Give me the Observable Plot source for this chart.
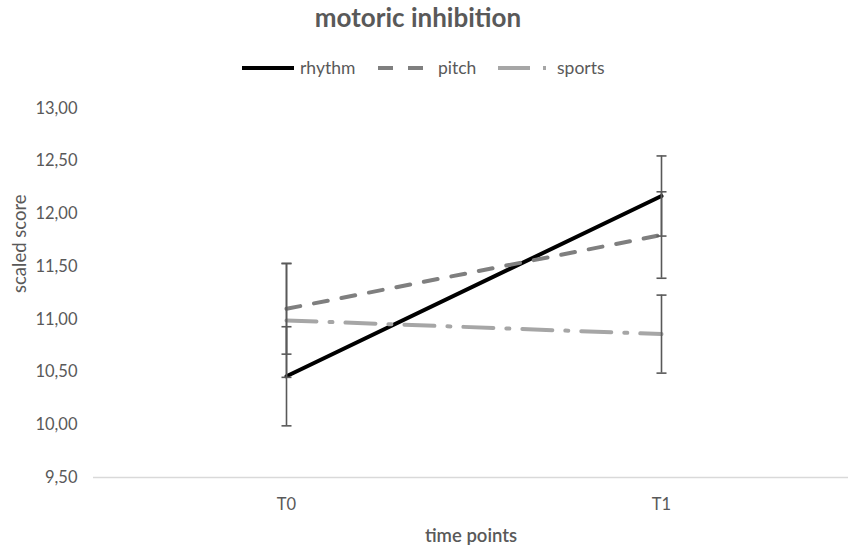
<!DOCTYPE html>
<html>
<head>
<meta charset="utf-8">
<script src="https://cdn.jsdelivr.net/npm/d3@7"></script>
<script src="https://cdn.jsdelivr.net/npm/@observablehq/plot@0.6"></script>
<style>
  body { margin: 0; background: #fff; font-family: Lato, "Open Sans", sans-serif; }
  #wrap { position: relative; width: 850px; height: 552px; }
  #title { position: absolute; left: 0; width: 836px; top: 1px; text-align: center; font-size: 26px; font-weight: bold; color: #595959; }
  #legend { position: absolute; top: 56px; left: 0; width: 850px; height: 24px; }
  #chart { position: absolute; top: 88px; left: 0; }
</style>
</head>
<body>
<div id="wrap">
  <div id="title">motoric inhibition</div>
  <svg id="legend" width="850" height="24"></svg>
  <div id="chart"></div>
</div>
<script>
const timePoints = ["T0", "T1"];
const groups = ["rhythm", "pitch", "sports"];
const rhythmMean = [10.46, 12.17];
const rhythmErr = [0.47, 0.38];
const pitchMean = [11.10, 11.80];
const pitchErr = [0.43, 0.41];
const sportsMean = [10.99, 10.86];
const sportsErr = [0.54, 0.37];
const yTicks = [9.5, 10, 10.5, 11, 11.5, 12, 12.5, 13];

const colors = {rhythm: "#000000", pitch: "#7f7f7f", sports: "#a6a6a6"};
const dashes = {rhythm: null, pitch: "14,14", sports: "30,13,3,13"};
const means = {rhythm: rhythmMean, pitch: pitchMean, sports: sportsMean};
const errs = {rhythm: rhythmErr, pitch: pitchErr, sports: sportsErr};

const rows = [];
for (const g of groups) timePoints.forEach((t, i) => rows.push({group: g, time: t, y: means[g][i], lo: means[g][i] - errs[g][i], hi: means[g][i] + errs[g][i]}));

const capSymbol = {draw(ctx, size) { const w = Math.sqrt(size / Math.PI); ctx.moveTo(-w, 0); ctx.lineTo(w, 0); }};
const caps = rows.flatMap(d => [{time: d.time, y: d.lo}, {time: d.time, y: d.hi}]);
const fmt = d => d.toFixed(2).replace(".", ",");
const FONT = "Lato, 'Open Sans', sans-serif";

const plot = Plot.plot({
  width: 850, height: 464,
  marginLeft: 93, marginRight: 2, marginTop: 20, marginBottom: 75,
  style: {fontFamily: FONT, fontSize: "16px", color: "#595959", background: "#fff"},
  x: {type: "point", domain: timePoints, range: [286, 661], padding: 0},
  y: {domain: [9.5, 13]},
  marks: [
    Plot.ruleY([9.5], {stroke: "#d9d9d9", strokeWidth: 1.3}),
    Plot.axisY({ticks: yTicks, tickFormat: fmt, tickSize: 0, tickPadding: 16, label: null, fontSize: 16.5, fill: "#595959"}),
    Plot.axisX({tickSize: 0, tickPadding: 21, label: null, fontSize: 16.5, fill: "#595959"}),
    Plot.text(["scaled score"], {frameAnchor: "left", dx: -73, rotate: -90, fontSize: 18.5, fill: "#595959"}),
    Plot.text(["time points"], {frameAnchor: "bottom", dy: 64, fontSize: 18.5, fontWeight: 600, fill: "#595959"}),
    ...groups.map(g => Plot.line(rows.filter(d => d.group === g), {x: "time", y: "y", stroke: colors[g], strokeWidth: 4, strokeDasharray: dashes[g]})),
    Plot.ruleX(rows, {x: "time", y1: "lo", y2: "hi", stroke: "#595959", strokeWidth: 1.6}),
    Plot.dot(caps, {x: "time", y: "y", symbol: capSymbol, r: 5, stroke: "#595959", strokeWidth: 1.6, fill: "none"})
  ]
});
document.getElementById("chart").appendChild(plot);

// legend
const leg = d3.select("#legend");
const items = [
  {g: "rhythm", x1: 242, x2: 294, tx: 300},
  {g: "pitch", x1: 378, x2: 423, tx: 438},
  {g: "sports", x1: 498, x2: 547, tx: 557}
];
for (const it of items) {
  leg.append("line").attr("x1", it.x1).attr("x2", it.x2).attr("y1", 12).attr("y2", 12)
    .attr("stroke", colors[it.g]).attr("stroke-width", 4)
    .attr("stroke-dasharray", it.g === "pitch" ? "15,15" : it.g === "sports" ? "32,13,3,13" : null);
  leg.append("text").attr("x", it.tx).attr("y", 12).attr("dy", "0.35em")
    .attr("font-size", 17.5).attr("fill", "#595959").attr("font-family", FONT).text(it.g);
}
</script>
</body>
</html>
